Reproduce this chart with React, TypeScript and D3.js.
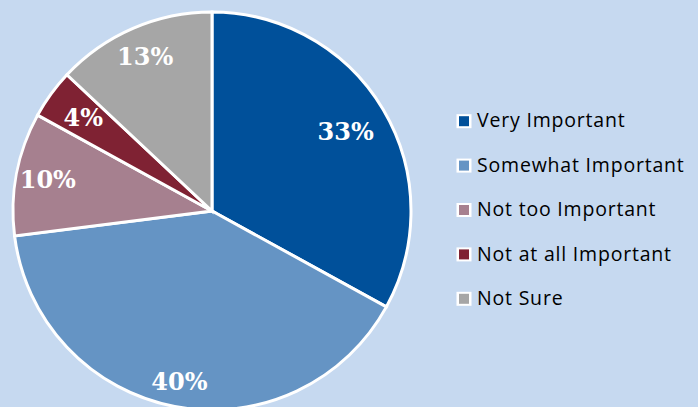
import React from "react";
import * as d3 from "d3";

const categories = ["Very Important", "Somewhat Important", "Not too Important", "Not at all Important", "Not Sure"];
const values = [33, 40, 10, 4, 13];
const colors = ["#00509a", "#6594c4", "#a6808f", "#7f2233", "#a6a6a6"];
const labelRadius = [0.78, 0.875, 0.84, 0.8, 0.845];

const W = 698, H = 407;
const cx = 212, cy = 211, R = 199;

export default function App() {
  const pie = d3.pie<number>().sort(null).value((d) => d)(values);
  const arc = d3.arc<d3.PieArcDatum<number>>().innerRadius(0).outerRadius(R);
  const legendY = d3.scaleBand<string>().domain(categories).range([99, 321]);
  return (
    <svg width={W} height={H} style={{ position: "absolute", left: 0, top: 0, display: "block" }}>
      <rect x={0} y={0} width={W} height={H} fill="#c6d9f0" />
      <g transform={`translate(${cx},${cy})`}>
        {pie.map((d, i) => (
          <path key={i} d={arc(d) || ""} fill={colors[i]} stroke="#fff" strokeWidth={3} strokeLinejoin="miter" />
        ))}
        {pie.map((d, i) => {
          const r = R * labelRadius[i];
          const [x, y] = d3.arc<d3.PieArcDatum<number>>().innerRadius(r).outerRadius(r).centroid(d);
          return (
            <text key={"l" + i} x={x} y={y} dy="0.35em" textAnchor="middle" fill="#fff"
              fontFamily="'DejaVu Serif', serif" fontWeight="bold" fontSize={24}>
              {values[i]}%
            </text>
          );
        })}
      </g>
      {categories.map((c, i) => {
        const y = (legendY(c) || 0) + legendY.bandwidth() / 2;
        return (
          <g key={c}>
            <rect x={456.5} y={y - 7} width={15} height={14} fill="#fff" />
            <rect x={459} y={y - 5} width={10} height={10} fill={colors[i]} />
            <text x={477} y={y} dy="0.32em" fontFamily="'Open Sans', sans-serif" fontSize={19.5} letterSpacing={0.8} fill="#000">{c}</text>
          </g>
        );
      })}
    </svg>
  );
}
